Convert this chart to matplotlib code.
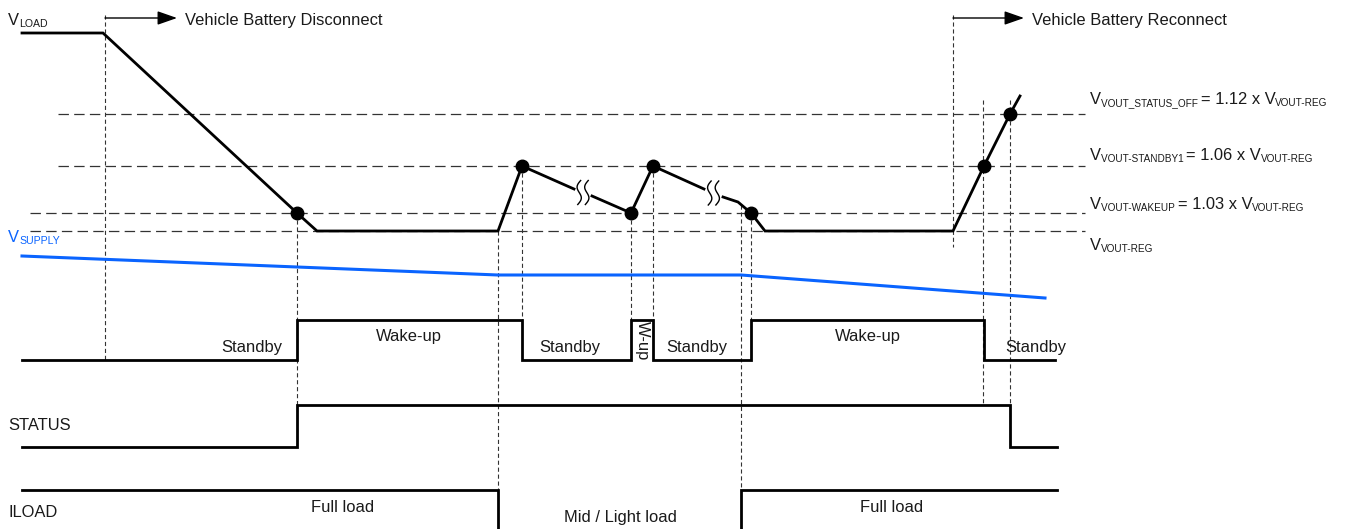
import numpy as np
import matplotlib
matplotlib.use("Agg")
import matplotlib.pyplot as plt

plt.rcParams['font.family'] = ['Liberation Sans', 'DejaVu Sans']
plt.rcParams['lines.scale_dashes'] = False

# ---------------- data (time axis in px-like units, levels in px-like units) ----------
# V_LOAD waveform
vload_t = [22, 103, 297, 317, 498, 522, 574, 592, 631, 653, 704, 723, 738, 751, 765, 953, 984, 1010, 1020]
vload_v = [33, 33, 213, 231, 231, 166, 189, 196, 213, 166, 189, 197, 202, 213, 231, 231, 166, 114, 96]
vload_breaks = [6, 10]          # segment index after which the line is broken (squiggle)
vload_dots_t = [297, 522, 631, 653, 751, 984, 1010]
vload_dots_v = [213, 166, 213, 166, 213, 166, 114]

# threshold levels
thr_levels = [114, 166, 213, 231]
thr_start = [58, 58, 30, 30]
thr_names = ["VOUT_STATUS_OFF", "VOUT-STANDBY1", "VOUT-WAKEUP", None]
thr_factors = ["1.12", "1.06", "1.03", None]

# V_SUPPLY
supply_t = [22, 297, 498, 741, 1045]
supply_v = [256, 267, 275, 275, 298]

# mode (Standby / Wake-up)
mode_t = [22, 297, 297, 522, 522, 631, 631, 653, 653, 751, 751, 984, 984, 1055]
mode_v = [360, 360, 320, 320, 360, 360, 320, 320, 360, 360, 320, 320, 360, 360]
mode_labels = ["Standby", "Wake-up", "Standby", "W-up", "Standby", "Wake-up", "Standby"]
mode_label_t = [282, 409, 570, 642, 697, 868, 1036]

# STATUS
status_t = [22, 297, 297, 1010, 1010, 1057]
status_v = [447, 447, 405, 405, 447, 447]

# ILOAD
iload_t = [22, 498, 498, 741, 741, 1057]
iload_v = [490, 490, 560, 560, 490, 490]
iload_labels = ["Full load", "Mid / Light load", "Full load"]
iload_label_t = [343, 620, 892]

# vertical guide markers (time, top, bottom)
guide_t = [105, 297, 498, 522, 631, 653, 741, 751, 953, 983, 1010]
guide_top = [15, 213, 231, 166, 213, 166, 205, 213, 15, 100, 100]
guide_bot = [360, 447, 490, 320, 320, 320, 490, 320, 247, 405, 447]

# --------------------------------------------------------------------------
W, H = 1366, 529
fig = plt.figure(figsize=(W / 100, H / 100), dpi=100)
ax = fig.add_axes([0, 0, 1, 1])
ax.set_xlim(0, W)
ax.set_ylim(H, 0)
ax.axis('off')
renderer = fig.canvas.get_renderer()

TXT = '#1a1a1a'
BLUE = '#0a64ff'
FS = 11.9
SUB = 7.6
SUB_R = 7.2


def rich(x, y, parts, color=TXT):
    for txt, size, dy in parts:
        t = ax.text(x, y + dy, txt, fontsize=size, va='baseline', ha='left', color=color)
        bb = t.get_window_extent(renderer)
        x += bb.width


# horizontal threshold lines
for lvl, x0 in zip(thr_levels, thr_start):
    ax.plot([x0, 1085], [lvl, lvl], color='#333333', lw=0.9, linestyle=(0, (7.5, 3.8)), zorder=1)

# vertical guides
for gx, gt, gb in zip(guide_t, guide_top, guide_bot):
    ax.plot([gx, gx], [gt, gb], color='#333333', lw=0.8, linestyle=(0, (3.0, 2.0)), zorder=1)

# V_LOAD with breaks
segs = []
start = 0
for b in vload_breaks:
    segs.append((start, b + 1))
    start = b + 1
segs.append((start, len(vload_t)))
for s, e in segs:
    ax.plot(vload_t[s:e], vload_v[s:e], color='black', lw=2.0, solid_joinstyle='miter', zorder=3)
ax.plot(vload_dots_t, vload_dots_v, 'o', color='black', ms=9, zorder=4)

# squiggles at the breaks
for b in vload_breaks:
    xm = (vload_t[b] + vload_t[b + 1]) / 2.0
    ym = (vload_v[b] + vload_v[b + 1]) / 2.0
    yy = np.linspace(-12, 12, 60)
    for off in (-3.8, 3.8):
        xx = xm + off + 2.8 * np.sin(yy / 12 * np.pi) - yy * 0.12
        ax.plot(xx, ym + yy, color='black', lw=1.0, zorder=3)

# V_SUPPLY
ax.plot(supply_t, supply_v, color=BLUE, lw=2.2, zorder=3)

# mode / status / iload
ax.plot(mode_t, mode_v, color='black', lw=2.0, zorder=3, solid_joinstyle='miter')
ax.plot(status_t, status_v, color='black', lw=2.0, zorder=3, solid_joinstyle='miter')
ax.plot(iload_t, iload_v, color='black', lw=2.0, zorder=3, solid_joinstyle='miter')

for lab, lx in zip(mode_labels, mode_label_t):
    if lab == "W-up":
        ax.text(lx, 341, lab, fontsize=FS, rotation=-90, ha='center', va='center', color=TXT)
    elif lab == "Wake-up":
        ax.text(lx, 341, lab, fontsize=FS, ha='center', va='baseline', color=TXT)
    elif lx < 300:
        ax.text(lx, 352, lab, fontsize=FS, ha='right', va='baseline', color=TXT)
    else:
        ax.text(lx, 352, lab, fontsize=FS, ha='center', va='baseline', color=TXT)

for lab, lx in zip(iload_labels, iload_label_t):
    yb = 522 if lab.startswith("Mid") else 512
    ax.text(lx, yb, lab, fontsize=FS, ha='center', va='baseline', color=TXT)

# signal names
rich(8, 25, [("V", FS, 0), ("LOAD", SUB, 2)])
rich(8, 242, [("V", FS, 0), ("SUPPLY", SUB, 2)], color=BLUE)
ax.text(8, 430, "STATUS", fontsize=FS, ha='left', va='baseline', color=TXT)
ax.text(8, 517, "ILOAD", fontsize=FS, ha='left', va='baseline', color=TXT)

# threshold labels
thr_base = [104, 160, 209, 250]
for name, fac, yb in zip(thr_names, thr_factors, thr_base):
    if name is None:
        rich(1090, yb, [("V", FS, 0), ("VOUT-REG", SUB_R, 2)])
    else:
        rich(1090, yb, [("V", FS, 0), (name + " ", SUB_R, 2), ("= " + fac + " x V", FS, 0),
                        ("VOUT-REG", SUB_R, 2)])

# event arrows
for x0, x1, label in [(105, 177, "Vehicle Battery Disconnect"), (953, 1024, "Vehicle Battery Reconnect")]:
    ax.annotate('', xy=(x1, 18), xytext=(x0, 18),
                arrowprops=dict(arrowstyle='-|>,head_length=1.2,head_width=0.42', mutation_scale=10,
                                lw=1.0, color='black', shrinkA=0, shrinkB=0))
    ax.text(x1 + 8, 25, label, fontsize=FS, ha='left', va='baseline', color=TXT)

fig.savefig('out.png', dpi=100)
